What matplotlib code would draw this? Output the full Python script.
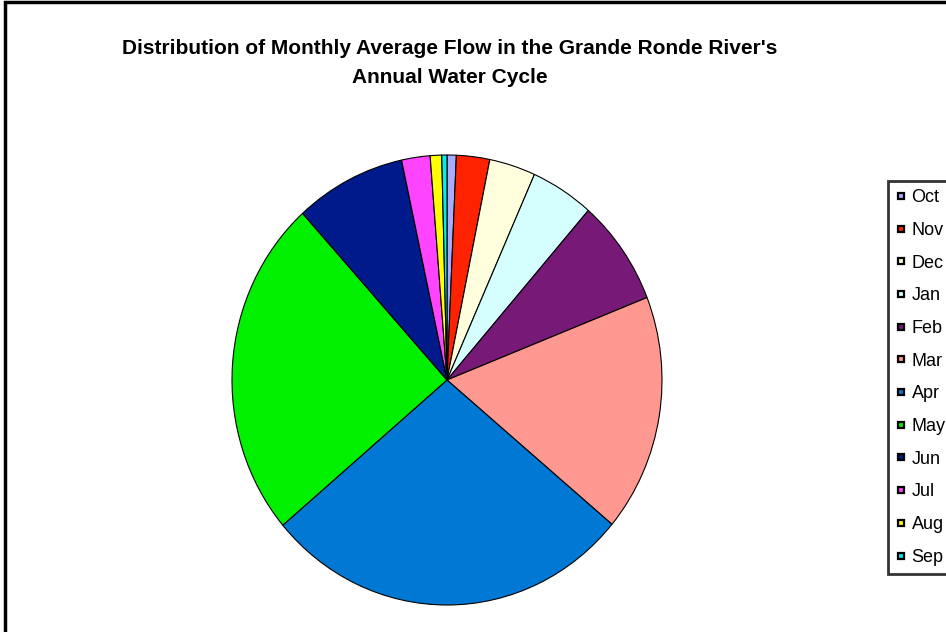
import matplotlib
matplotlib.use("Agg")
import matplotlib.pyplot as plt
from matplotlib.lines import Line2D
from matplotlib.patches import Rectangle

plt.rcParams['font.family'] = ['Liberation Sans', 'DejaVu Sans']

# monthly average flow (cfs), water year order Oct -> Sep
months = ['Oct', 'Nov', 'Dec', 'Jan', 'Feb', 'Mar',
          'Apr', 'May', 'Jun', 'Jul', 'Aug', 'Sep']
flow = [250, 900, 1250, 1710, 2740, 6140, 9990, 8800, 3000, 770, 310, 140]
colors = ['#AAAAFF', '#FF2200', '#FFFFDD', '#D5FFFF', '#771A77', '#FF9890',
          '#0078D4', '#00F000', '#001A8C', '#FF44FF', '#FFFF00', '#00EEEE']

title = "Distribution of Monthly Average Flow in the Grande Ronde River's\nAnnual Water Cycle"

W, H = 946, 632
fig = plt.figure(figsize=(W / 100, H / 100), dpi=100)

# outer chart frame (right and bottom edges run off the image)
fig.patches.append(Rectangle((5 / W, -0.05), 1.1, 1 - 2 / H + 0.05,
                             transform=fig.transFigure, fill=False,
                             edgecolor='black', linewidth=2.5))

# pie slightly taller than wide
cx, cy, rx, ry = 447, 380, 215, 225
ax = fig.add_axes([(cx - rx) / W, 1 - (cy + ry) / H, 2 * rx / W, 2 * ry / H])
ax.pie(flow, colors=colors, startangle=90, counterclock=False,
       wedgeprops=dict(edgecolor='black', linewidth=0.8))
ax.set_aspect('auto')
ax.set_xlim(-1, 1)
ax.set_ylim(-1, 1)
ax.axis('off')

fig.text(450 / W, 1 - 63 / H, title, ha='center', va='center',
         fontsize=15, fontweight='bold', linespacing=1.7)

handles = [Line2D([], [], linestyle='none', marker='s', markersize=5,
                  markerfacecolor=c, markeredgecolor='black', markeredgewidth=1.6)
           for c in colors]
leg = fig.legend(handles, months, loc='upper left',
                 bbox_to_anchor=(888 / W, 1 - 181 / H),
                 fontsize=13, frameon=True, fancybox=False,
                 handlelength=0.5, handletextpad=0.35, labelspacing=0.87,
                 borderpad=0.45, borderaxespad=0)
leg.get_frame().set_edgecolor('black')
leg.get_frame().set_linewidth(2)

fig.savefig('out.png', dpi=100)
